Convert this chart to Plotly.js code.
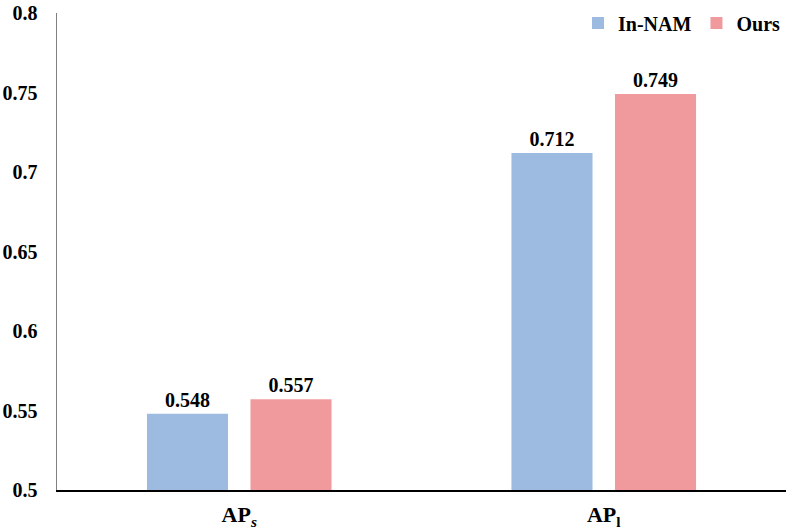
<!DOCTYPE html>
<html>
<head>
<meta charset="utf-8">
<script src="https://cdn.plot.ly/plotly-3.0.1.min.js"></script>
<style>html,body{margin:0;padding:0;background:#fff;}#chart{width:789px;height:531px;}</style>
</head>
<body>
<div id="chart"></div>
<script>
const categories = ["AP<sub><i>s</i></sub>", "AP<sub>l</sub>"];
const seriesNames = ["In-NAM", "Ours"];
const inNamValues = [0.548, 0.712];
const oursValues = [0.557, 0.749];
const yTickVals = [0.5, 0.55, 0.6, 0.65, 0.7, 0.75, 0.8];
const yTickText = ["0.5", "0.55", "0.6", "0.65", "0.7", "0.75", "0.8"];

const serif = "Liberation Serif, Times New Roman, serif";
function mk(name, vals, color) {
  return {
    type: 'bar', name: name, x: categories, y: vals,
    marker: {color: color},
    text: vals.map(v => v.toFixed(3)),
    textposition: 'outside',
    textfont: {family: serif, size: 20, color: '#000', weight: 'bold'},
    cliponaxis: false,
    hoverinfo: 'none'
  };
}
const data = [
  mk(seriesNames[0], inNamValues, '#9DBBE0'),
  mk(seriesNames[1], oursValues, '#F09A9E')
];
const layout = {
  width: 789, height: 531,
  margin: {l: 57, r: 3, t: 13, b: 41},
  paper_bgcolor: '#fff', plot_bgcolor: '#fff',
  barmode: 'group', bargap: 0.432, bargroupgap: 0.217,
  font: {family: serif, color: '#000', weight: 'bold'},
  xaxis: {
    showline: true, linecolor: '#000', linewidth: 1.5,
    showgrid: false, zeroline: false, ticks: '',
    ticklabelstandoff: 4,
    tickfont: {family: serif, size: 22, color: '#000', weight: 'bold'},
    fixedrange: true
  },
  yaxis: {
    range: [0.5, 0.8], tickvals: yTickVals, ticktext: yTickText,
    showline: true, linecolor: '#808080', linewidth: 1.5,
    showgrid: false, zeroline: false, ticks: '',
    ticklabelstandoff: 14,
    tickfont: {family: serif, size: 20, color: '#000', weight: 'bold'},
    fixedrange: true
  },
  legend: {
    orientation: 'h', x: 1.0, xanchor: 'right', y: 1.02, yanchor: 'top',
    font: {family: serif, size: 20, color: '#000', weight: 'bold'},
    itemwidth: 30, tracegroupgap: 0, bgcolor: 'rgba(0,0,0,0)'
  },
  showlegend: true
};
Plotly.newPlot('chart', data, layout, {displayModeBar: false, staticPlot: true});
</script>
</body>
</html>
